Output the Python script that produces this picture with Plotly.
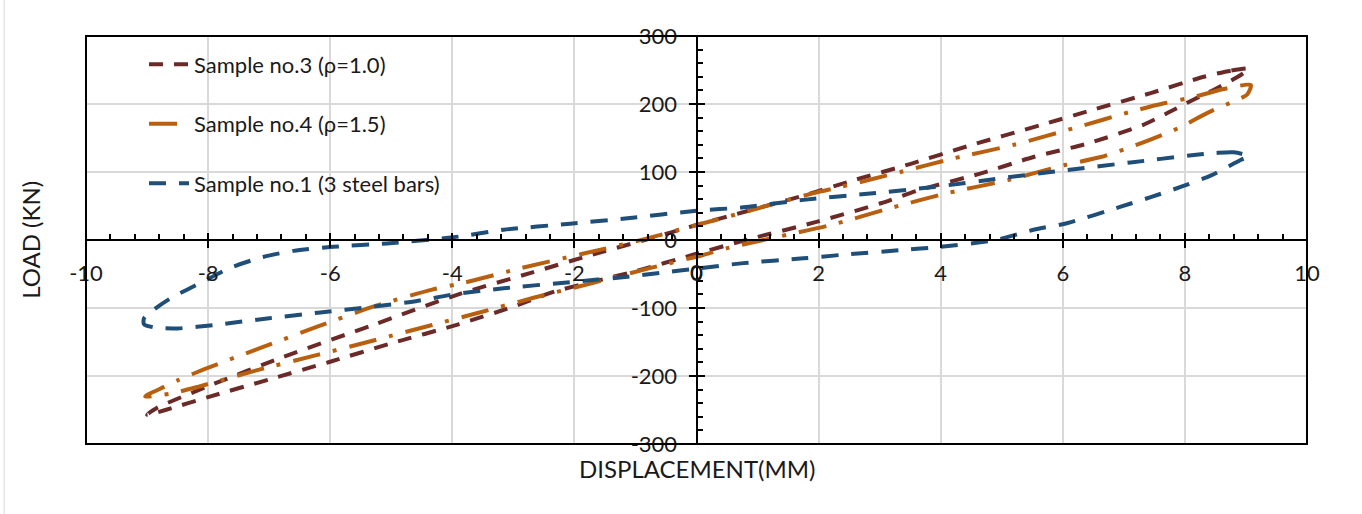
import plotly.graph_objects as go

# ---------------- data ----------------
# Sample no.3 (rho=1.0): closed hysteresis loop, starting at the positive peak
s3_x = [9.05, 8.75, 8.31, 7.44, 6.51, 5.64, 4.44, 3.51, 2.58, 1.7, 0.85, 0.0, -0.85, -1.8, -2.7,
        -3.9, -5.3, -6.77, -8.0, -8.84, -9.0,
        -8.7, -8.0, -7.0, -6.0, -5.0, -3.9, -3.0, -2.33, -1.68, -1.0, -0.07, 0.85, 1.98, 3.02,
        3.67, 4.66, 5.52, 6.41, 7.31, 7.72, 8.13, 8.54, 8.92, 9.05]
s3_y = [252, 249, 240, 216, 192, 169, 138, 112, 88, 64, 43, 22, 0, -24, -48,
        -80, -125, -172, -215, -247, -257,
        -250, -231, -205, -179, -152, -124, -98, -76, -61, -46, -22, 1, 27, 54,
        74, 98, 122, 142, 169, 187, 206, 224, 243, 252]

# Sample no.4 (rho=1.5)
s4_x = [9.08, 8.64, 8.13, 7.66, 7.17, 6.24, 5.2, 4.21, 3.34, 2.36, 1.92, 0.5, 0.0, -0.95, -1.9,
        -2.86, -3.81, -4.33, -5.26, -6.2, -7.12, -8.06, -8.49, -8.72, -9.03,
        -8.62, -8.13, -7.18, -6.21, -5.26, -4.33, -3.57, -2.67, -1.69, -0.75, 0.11, 0.5, 1.25,
        2.2, 3.18, 4.11, 5.1, 6.02, 6.62, 7.24, 7.93, 8.37, 8.8, 9.02, 9.08]
s4_y = [228, 222, 210, 201, 190, 166, 140, 120, 100, 78, 69, 34, 22, -1, -21,
        -41, -63, -73, -97, -127, -158, -190, -206, -216, -230,
        -226, -215, -191, -169, -147, -125, -107, -85, -63, -41, -22, -12, 3,
        22, 47, 69, 88, 110, 122, 141, 166, 187, 204, 214, 228]

# Sample no.1 (3 steel bars)
s1_x = [9.05, 8.8, 8.5, 8.15, 7.11, 6.08, 5.0, 3.89, 2.8, 1.75, 0.77, 0.0, -1.13, -2.07, -3.16,
        -3.98, -5.07, -5.95, -6.6, -7.1, -7.64, -8.08, -8.62, -8.9, -9.05, -9.05,
        -8.85, -8.5, -7.9, -7.0, -6.2, -5.3, -4.6, -3.98, -3.16, -2.07, -1.13, -0.48, 0.0,
        0.77, 1.75, 2.36, 3.34, 4.0, 4.9, 5.52, 6.08, 6.95, 7.44, 7.93, 8.43, 8.92, 9.05]
s1_y = [123, 129, 128, 125, 114, 103, 91, 78, 68, 59, 48, 43, 32, 24, 15,
        4, -5, -10, -16, -25, -41, -61, -86, -103, -115, -124,
        -129, -130, -125, -115, -107, -98, -90, -80, -71, -62, -54, -47, -42,
        -34, -27, -22, -15, -10, 0, 15, 25, 49, 63, 78, 95, 118, 123]

series_names = ["Sample no.3 (\u03c1=1.0)", "Sample no.4 (\u03c1=1.5)", "Sample no.1 (3 steel bars)"]
x_tickvals = [-10, -8, -6, -4, -2, 0, 2, 4, 6, 8, 10]
x_ticktext = ["-10", "-8", "-6", "-4", "-2", "0", "2", "4", "6", "8", "10"]
y_tickvals = [-300, -200, -100, 0, 100, 200, 300]
y_ticktext = ["-300", "-200", "-100", "0", "100", "200", "300"]
x_title = "DISPLACEMENT(MM)"
y_title = "LOAD (KN)"

# ---------------- styles ----------------
C3 = "#6B2A28"
C4 = "#B8600F"
C1 = "#1F4E79"
FONT = "Lato, 'Open Sans', sans-serif"
TXT = "#1a1a1a"
GRID = "#D9D9D9"
FS = 22

fig = go.Figure()
fig.add_trace(go.Scatter(x=s3_x, y=s3_y, mode="lines", name=series_names[0], legendgroup="a",
                         line=dict(color=C3, width=4, dash="14px,11px", shape="spline", smoothing=0.7)))
fig.add_trace(go.Scatter(x=s4_x, y=s4_y, mode="lines", name=series_names[1], legendgroup="b",
                         line=dict(color=C4, width=4, dash="28px,13px,4px,13px", shape="spline", smoothing=0.7)))
fig.add_trace(go.Scatter(x=s1_x, y=s1_y, mode="lines", name=series_names[2], legendgroup="c",
                         line=dict(color=C1, width=4, dash="17px,13px", shape="spline", smoothing=0.7)))
# helper trace so the overlay axes (upper/right halves of the crossing ticks) are drawn
fig.add_trace(go.Scatter(x=[None], y=[None], xaxis="x2", yaxis="y2", showlegend=False,
                         hoverinfo="skip"))

tickfont = dict(family=FONT, size=FS, color=TXT)
fig.update_layout(
    width=1362, height=514,
    margin=dict(l=86, r=55, t=36, b=70),
    paper_bgcolor="white", plot_bgcolor="white",
    font=dict(family=FONT, size=FS, color=TXT),
    showlegend=True,
    legend=dict(x=0.0475, y=0.982, xanchor="left", yanchor="top", bgcolor="rgba(0,0,0,0)",
                font=dict(family=FONT, size=FS, color=TXT), tracegroupgap=28, itemwidth=40),
    xaxis=dict(range=[-10, 10], tickmode="array", tickvals=x_tickvals, ticktext=x_ticktext,
               showgrid=True, gridcolor=GRID, gridwidth=2,
               zeroline=False, showline=True, linecolor="black", linewidth=2,
               anchor="free", position=0.5, ticks="outside", ticklen=7, tickwidth=2,
               tickcolor="black", tickfont=tickfont, ticklabelstandoff=7,
               minor=dict(ticks="inside", dtick=0.4, tick0=0, ticklen=5, tickwidth=2,
                          tickcolor="black", showgrid=False)),
    yaxis=dict(range=[-300, 300], tickmode="array", tickvals=y_tickvals, ticktext=y_ticktext,
               showgrid=True, gridcolor=GRID, gridwidth=2,
               zeroline=False, showline=True, linecolor="black", linewidth=2,
               anchor="free", position=0.5, ticks="outside", ticklen=7, tickwidth=2,
               tickcolor="black", tickfont=tickfont, ticklabelstandoff=7,
               minor=dict(ticks="inside", dtick=20, tick0=0, ticklen=5, tickwidth=2,
                          tickcolor="black", showgrid=False)),
    xaxis2=dict(range=[-10, 10], overlaying="x", anchor="free", position=0.5, tick0=0, dtick=2,
                ticks="inside", ticklen=7, tickwidth=2, tickcolor="black", showticklabels=False,
                showgrid=False, zeroline=False, showline=False),
    yaxis2=dict(range=[-300, 300], overlaying="y", anchor="free", position=0.5, tick0=0, dtick=100,
                ticks="inside", ticklen=7, tickwidth=2, tickcolor="black", showticklabels=False,
                showgrid=False, zeroline=False, showline=False),
    shapes=[
        dict(type="rect", xref="paper", yref="paper", x0=0, x1=1, y0=0, y1=1,
             line=dict(color="black", width=2), layer="above"),
        dict(type="line", xref="paper", yref="paper", x0=-0.067, x1=-0.067, y0=-0.2, y1=1.2,
             line=dict(color=GRID, width=1)),
    ],
    annotations=[
        dict(text=y_title, xref="paper", yref="paper", x=-0.046, y=0.5, textangle=-90,
             showarrow=False, xanchor="center", yanchor="middle",
             font=dict(family=FONT, size=24, color=TXT)),
        dict(text=x_title, xref="paper", yref="paper", x=0.5, y=-0.059,
             showarrow=False, xanchor="center", yanchor="middle",
             font=dict(family=FONT, size=24, color=TXT)),
        # x tick label at the axis crossing (plotly drops it where the y axis line passes)
        dict(text=x_ticktext[5], xref="x", yref="paper", x=x_tickvals[5], y=0.5, yshift=-31,
             showarrow=False, xanchor="center", yanchor="middle", font=tickfont),
    ],
)

fig.write_html("out.html")
